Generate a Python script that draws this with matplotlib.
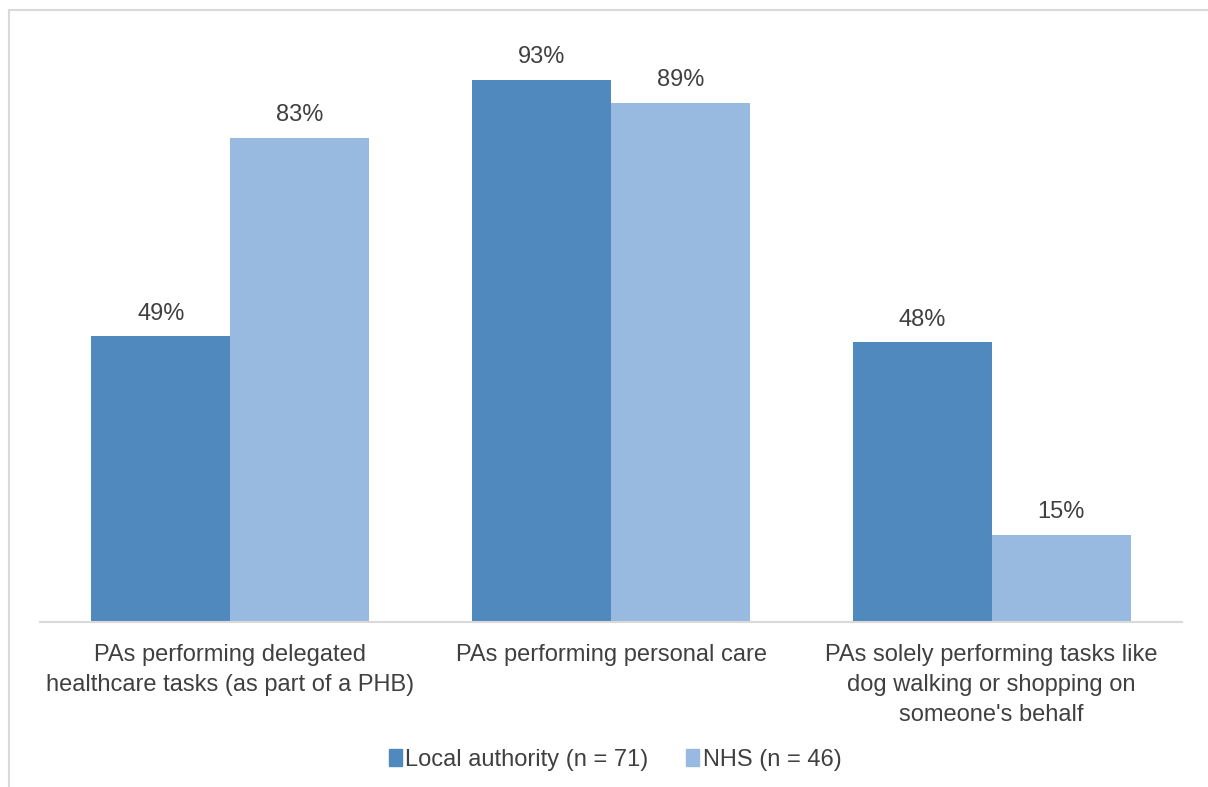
import matplotlib
matplotlib.use("Agg")
from matplotlib import pyplot as plt
from matplotlib.patches import Rectangle, Patch
import numpy as np

categories = [
    "PAs performing delegated\nhealthcare tasks (as part of a PHB)",
    "PAs performing personal care",
    "PAs solely performing tasks like\ndog walking or shopping on\nsomeone's behalf",
]
local_authority = [49, 93, 48]
nhs = [83, 89, 15]
series_names = ["Local authority (n = 71)", "NHS (n = 46)"]

dark_blue = "#4F89BD"
light_blue = "#98B9E0"
text_grey = "#404040"

plt.rcParams["font.family"] = ["Liberation Sans", "DejaVu Sans"]

W, H = 1208, 787
fig = plt.figure(figsize=(W / 100, H / 100), dpi=100)

# light grey chart frame, running off the right and bottom edges
fig.patches.append(Rectangle((9 / W, -0.1), 1.2, (H - 10) / H + 0.1,
                             transform=fig.transFigure, fill=False,
                             edgecolor="#D9D9D9", linewidth=1.5))

ax = fig.add_axes([40 / W, (H - 622) / H, (1182 - 40) / W, (622 - 39) / H])

x = np.arange(len(categories))
width = 0.365
bars1 = ax.bar(x - width / 2, local_authority, width, color=dark_blue)
bars2 = ax.bar(x + width / 2, nhs, width, color=light_blue)

for bars in (bars1, bars2):
    for b in bars:
        ax.text(b.get_x() + b.get_width() / 2, b.get_height() + 2,
                f"{b.get_height():.0f}%", ha="center", va="bottom",
                fontsize=17, color=text_grey)

ax.set_xlim(-0.5, 2.5)
ax.set_ylim(0, 100)
ax.set_yticks([])
ax.set_xticks(x)
ax.set_xticklabels(categories, fontsize=17, color=text_grey, linespacing=1.45)
ax.tick_params(axis="x", length=0, pad=16)
for side in ["top", "right", "left"]:
    ax.spines[side].set_visible(False)
ax.spines["bottom"].set_color("#D9D9D9")
ax.spines["bottom"].set_linewidth(1.5)

handles = [Patch(color=dark_blue), Patch(color=light_blue)]
fig.legend(handles, series_names, loc="center", bbox_to_anchor=(615 / W, (H - 760) / H),
           ncol=2, frameon=False, fontsize=17, handlelength=0.55, handleheight=0.75,
           handletextpad=0.15, columnspacing=1.6, labelcolor=text_grey)

plt.savefig("out.png", dpi=100)
